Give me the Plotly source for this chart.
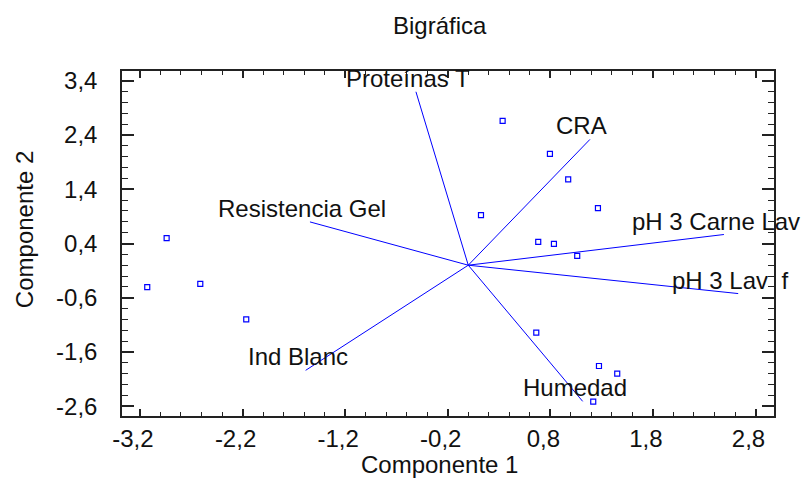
import plotly.graph_objects as go

# ---- data ----
obs_x = [0.335, 0.796, 0.974, 0.124, 1.264, 0.682, 0.835, 1.062, 0.663, 1.274, 1.452, 1.218,
         -2.94, -3.129, -2.612, -2.164]
obs_y = [2.662, 2.053, 1.581, 0.922, 1.051, 0.43, 0.393, 0.171, -1.242, -1.858, -2.0, -2.515,
         0.498, -0.406, -0.345, -0.997]

var_names = ["Proteínas T", "CRA", "pH 3 Carne Lav", "pH 3 Lav\u00a0 f", "Humedad",
             "Ind Blanc", "Resistencia Gel"]
var_x = [-0.51, 1.186, 2.492, 2.631, 1.115, -1.585, -1.543]
var_y = [3.197, 2.319, 0.566, -0.523, -2.51, -1.938, 0.798]

x_ticks = [-3.2, -2.2, -1.2, -0.2, 0.8, 1.8, 2.8]
x_tick_labels = ["-3,2", "-2,2", "-1,2", "-0,2", "0,8", "1,8", "2,8"]
y_ticks = [3.4, 2.4, 1.4, 0.4, -0.6, -1.6, -2.6]
y_tick_labels = ["3,4", "2,4", "1,4", "0,4", "-0,6", "-1,6", "-2,6"]

title_text = "Bigráfica"
x_title = "Componente 1"
y_title = "Componente 2"

FONT = "Arial, Liberation Sans, sans-serif"
FS = 24
BLUE = "#0000FF"

L, R, T, B = 122, 774, 71, 415.7
PW, PH = R - L, B - T

fig = go.Figure()

for vx, vy in zip(var_x, var_y):
    fig.add_trace(go.Scatter(x=[0, vx], y=[0, vy], mode="lines",
                             line=dict(color=BLUE, width=1), hoverinfo="skip",
                             showlegend=False))

fig.add_trace(go.Scatter(x=obs_x, y=obs_y, mode="markers",
                         marker=dict(symbol="square-open", size=5, color=BLUE,
                                     line=dict(color=BLUE, width=1.2)),
                         showlegend=False))

for name, vx, vy in zip(var_names, var_x, var_y):
    fig.add_annotation(x=vx, y=vy, text=name, showarrow=False, xanchor="center",
                       yanchor="bottom", xshift=-8, yshift=-2,
                       font=dict(family=FONT, size=FS, color="#111"))

axis_common = dict(showgrid=False, zeroline=False, showline=True, linecolor="#222",
                   linewidth=1.5, mirror="ticks", ticks="inside", tickcolor="#222",
                   tickfont=dict(family=FONT, size=FS, color="#111"))

fig.update_xaxes(range=[-3.375, 2.98], tickmode="array", tickvals=x_ticks,
                 ticktext=x_tick_labels, ticklen=7, tickwidth=1.5,
                 minor=dict(ticks="inside", tickmode="linear", tick0=-3.2, dtick=0.2,
                            ticklen=4, tickcolor="#222", tickwidth=1),
                 ticklabelshift=-7, **axis_common)
fig.update_yaxes(range=[-2.78, 3.58], tickmode="array", tickvals=y_ticks,
                 ticktext=y_tick_labels, ticklen=12, tickwidth=1.5,
                 minor=dict(ticks="inside", tickmode="linear", tick0=0.4, dtick=0.2,
                            ticklen=6, tickcolor="#222", tickwidth=1),
                 ticklabelstandoff=18, **axis_common)

fig.add_annotation(text=title_text, xref="paper", yref="paper",
                   x=(439.5 - L) / PW, y=1 + (T - 26) / PH,
                   xanchor="center", yanchor="middle", showarrow=False,
                   font=dict(family=FONT, size=FS, color="#111"))
fig.add_annotation(text=x_title, xref="paper", yref="paper",
                   x=(439.5 - L) / PW, y=-(464 - B) / PH,
                   xanchor="center", yanchor="middle", showarrow=False,
                   font=dict(family=FONT, size=FS, color="#111"))
fig.add_annotation(text=y_title, xref="paper", yref="paper",
                   x=-(L - 24) / PW, y=(B - 230) / PH,
                   xanchor="center", yanchor="middle", showarrow=False, textangle=-90,
                   font=dict(family=FONT, size=FS, color="#111"))

fig.update_layout(width=801, height=481, autosize=False,
                  margin=dict(l=L, r=801 - R, t=T, b=481 - B, pad=0),
                  plot_bgcolor="white", paper_bgcolor="white",
                  font=dict(family=FONT, size=FS, color="#111"))

fig.write_html("out.html", config={"displayModeBar": False},
               post_script="document.body.style.margin='0';")
